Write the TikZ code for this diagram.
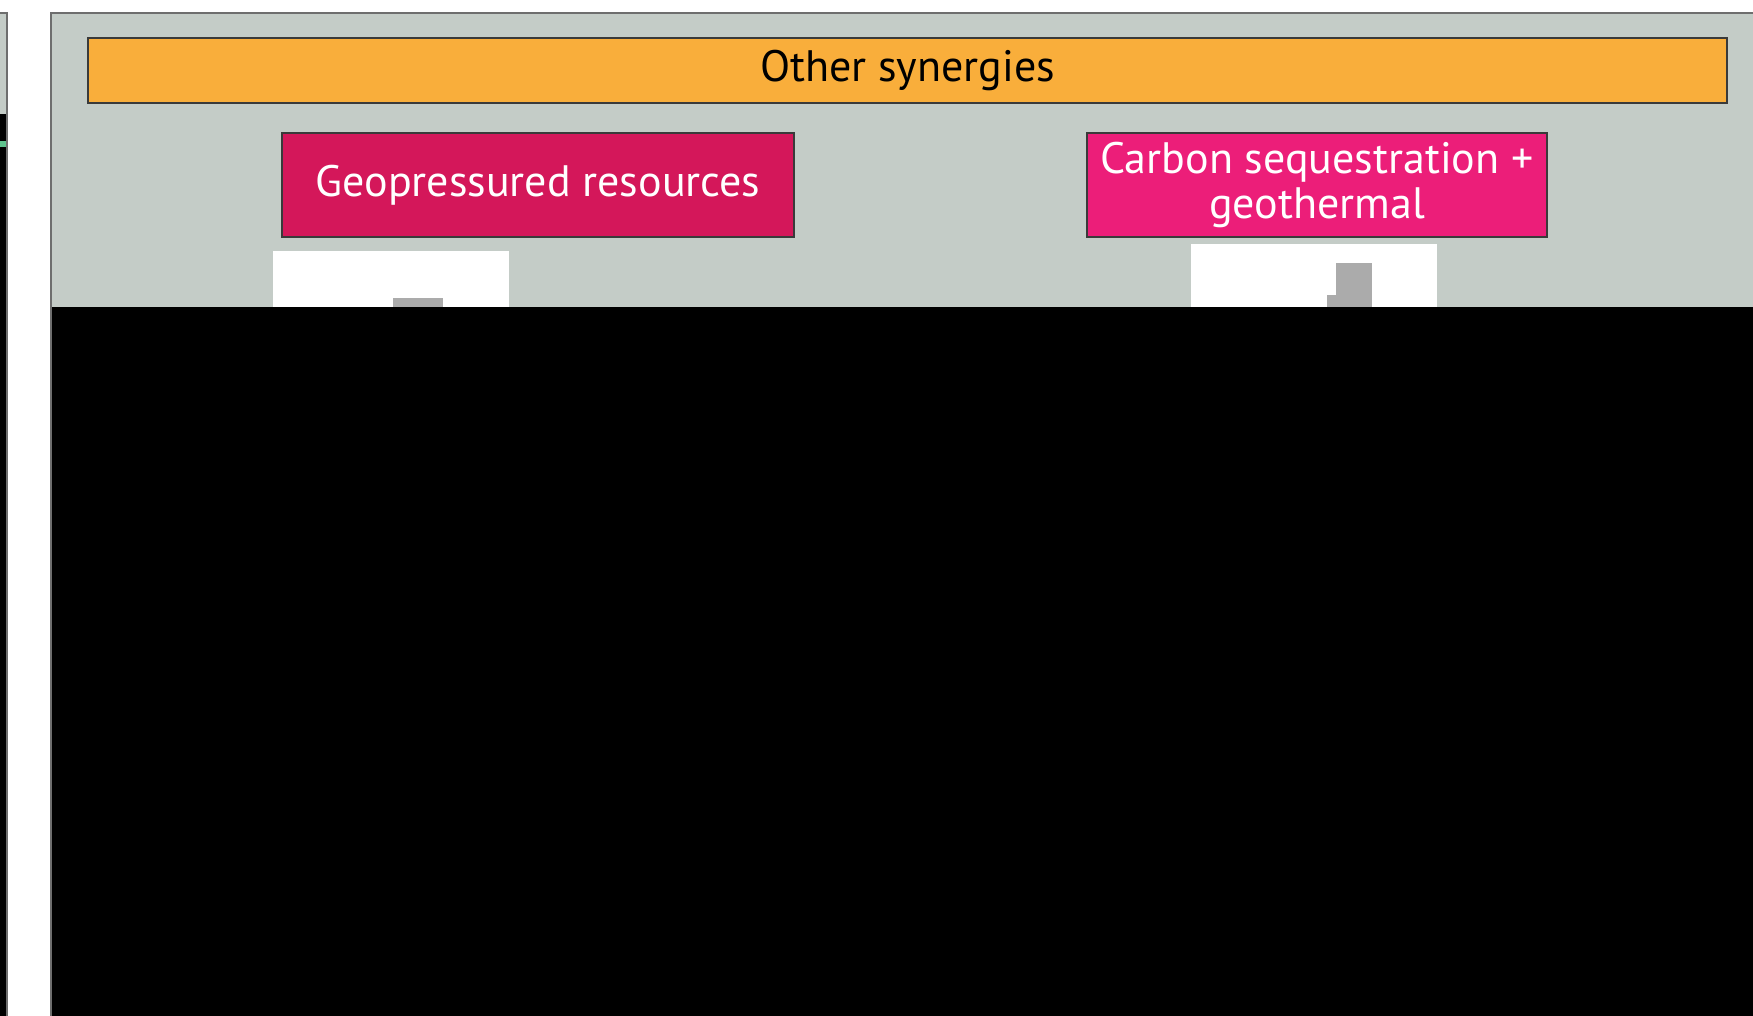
\documentclass[tikz,border=0pt]{standalone}
\usepackage{fontspec}
\setmainfont{PT Sans}
\usepackage{tikz}
\usetikzlibrary{shapes.geometric, arrows,calc,positioning}
\definecolor{panelgray}{HTML}{C4CCC7}
\definecolor{framegray}{HTML}{6E6E6E}
\definecolor{barorange}{HTML}{F9AE3B}
\definecolor{geored}{HTML}{D4175A}
\definecolor{carbonpink}{HTML}{EC1E79}
\definecolor{edgedark}{HTML}{3A3A3A}
\definecolor{stripgreen}{HTML}{5FC48E}
\tikzstyle{header} = [rectangle, minimum width=1639pt, minimum height=65pt, inner sep=0pt, text centered, draw=edgedark, line width=2pt, fill=barorange, font=\fontsize{44}{46}\selectfont]
\tikzstyle{synergy} = [rectangle, minimum height=104pt, inner sep=0pt, text centered, draw=edgedark, line width=2pt, text=white, font=\fontsize{44}{45}\selectfont, align=center]
\tikzstyle{picture} = [rectangle, inner sep=0pt, fill=white]
\tikzstyle{well} = [rectangle, inner sep=0pt, fill=black!33]

\begin{document}
\begin{tikzpicture}[x=1pt, y=-1pt]

\useasboundingbox (0,0) rectangle (1753,1016);
\fill[white] (0,0) rectangle (1753,1016);

% neighbouring panel, cut off at the left
\fill[panelgray] (-10,13) rectangle (8,114);
\fill[black] (-10,114) rectangle (8,1016);
\fill[stripgreen] (-10,141) rectangle (8,147);
\draw[framegray, line width=2pt] (-10,13) -- (7,13) -- (7,1020);

% main panel
\filldraw[fill=panelgray, draw=framegray, line width=2pt] (51,13) rectangle (1770,1030);

\node (bar) [header] at (907.5,70.5) {Other synergies};
\node (geo) [synergy, fill=geored, minimum width=512pt] at (538,185) {Geopressured resources};
\node (carbon) [synergy, fill=carbonpink, minimum width=460pt] at (1317,185) {Carbon sequestration +\\geothermal};

\node (geopic) [picture, minimum width=236pt, minimum height=56pt] at (391,279) {};
\node (carbonpic) [picture, minimum width=246pt, minimum height=63pt] at (1314,275.5) {};
\node (geowell) [well, minimum width=50pt, minimum height=9pt] at (418,302.5) {};
\node (carbonwell) [well, minimum width=36pt, minimum height=44pt] at (1354,285) {};
\node (carbonbase) [well, minimum width=45pt, minimum height=12pt] at (1349.5,301) {};

% hidden lower part
\fill[black] (52,307) rectangle (1760,1030);

\end{tikzpicture}
\end{document}
